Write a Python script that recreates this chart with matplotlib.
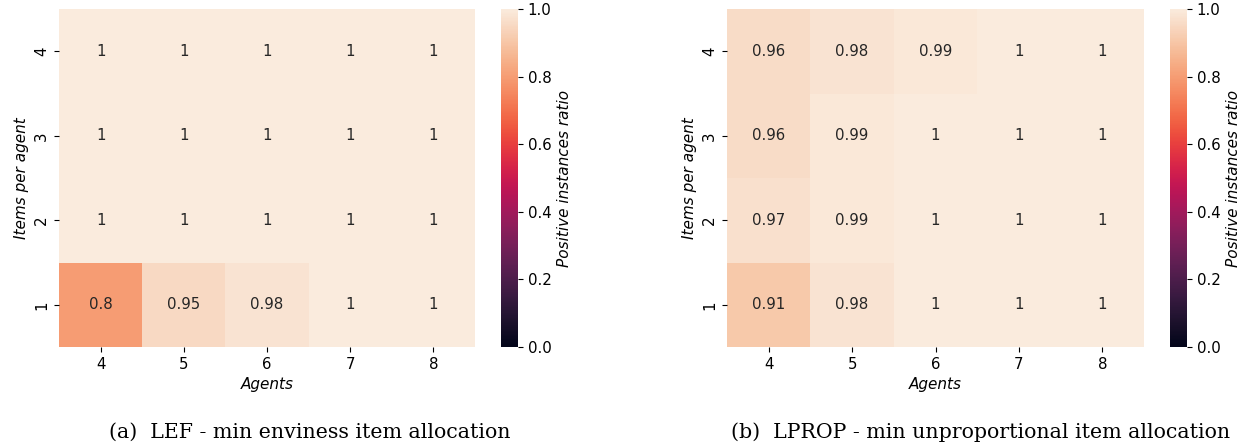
import matplotlib
matplotlib.use("Agg")
import matplotlib.pyplot as plt
import seaborn as sns
import pandas as pd

agents = [4, 5, 6, 7, 8]
items_per_agent = [4, 3, 2, 1]  # top row first

# LEF - min enviness
lef_values = [
    [1, 1, 1, 1, 1],
    [1, 1, 1, 1, 1],
    [1, 1, 1, 1, 1],
    [0.8, 0.95, 0.98, 1, 1],
]

# LPROP - min unproportional
lprop_values = [
    [0.96, 0.98, 0.99, 1, 1],
    [0.96, 0.99, 1, 1, 1],
    [0.97, 0.99, 1, 1, 1],
    [0.91, 0.98, 1, 1, 1],
]

captions = [
    "(a)  LEF - min enviness item allocation",
    "(b)  LPROP - min unproportional item allocation",
]

W, H = 1255, 448
fig = plt.figure(figsize=(W / 100, H / 100), dpi=100)


def box(x0, y0, x1, y1):
    # pixel box -> figure fraction
    return [x0 / W, 1 - y1 / H, (x1 - x0) / W, (y1 - y0) / H]


panels = [
    (lef_values, box(59, 9, 475, 347), box(501, 9, 518, 347), captions[0], 310),
    (lprop_values, box(727, 9, 1144, 347), box(1170, 9, 1187, 347), captions[1], 981),
]

for values, hm_box, cb_box, caption, cap_x in panels:
    df = pd.DataFrame(values, index=items_per_agent, columns=agents)
    ax = fig.add_axes(hm_box)
    cax = fig.add_axes(cb_box)
    sns.heatmap(df, ax=ax, cbar_ax=cax, vmin=0, vmax=1, annot=True,
                annot_kws={"fontsize": 10.8},
                cbar_kws={"label": "Positive instances ratio"})
    ax.set_xlabel("Agents", fontstyle="italic", fontsize=11)
    ax.set_ylabel("Items per agent", fontstyle="italic", fontsize=11)
    ax.tick_params(labelsize=10.8)
    cax.tick_params(labelsize=10.8)
    cax.yaxis.label.set_fontstyle("italic")
    cax.yaxis.label.set_fontsize(11)
    fig.text(cap_x / W, 1 - 432 / H, caption, ha="center", va="center",
             family="DejaVu Serif", fontsize=14.8)

fig.savefig("out.png", dpi=100)
